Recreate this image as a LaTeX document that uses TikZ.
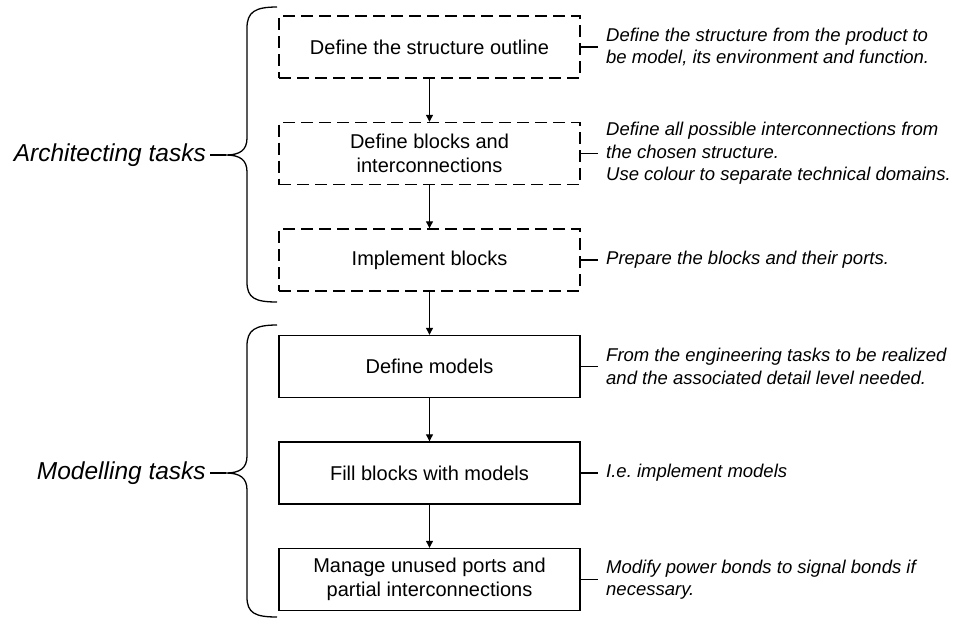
\documentclass[tikz,border=0pt]{standalone}
\usepackage{fontspec}
\setmainfont{Liberation Sans}
\usetikzlibrary{arrows.meta}
\frenchspacing

\begin{document}
\begin{tikzpicture}[x=1pt,y=-1pt,
  task/.style={draw,line width=1.4pt,minimum width=301pt,minimum height=62pt,
    align=center,font=\fontsize{20}{23.5}\selectfont},
  sketch/.style={task,dash pattern=on 12pt off 6pt},
  note/.style={anchor=west,inner xsep=8pt,inner ysep=0pt,align=left,
    font=\fontsize{18.5}{22.5}\selectfont\itshape},
  group/.style={anchor=east,inner xsep=4pt,inner ysep=0pt,
    font=\fontsize{24.5}{28}\selectfont\itshape},
  flow/.style={-{Triangle[length=7pt,width=7pt]},line width=1.1pt},
  curly/.style={line width=1.3pt}]
\useasboundingbox (0,0) rectangle (960,619);

% architecting part
\node[sketch] (s1) at (429.5,47) {Define the structure outline};
\node[sketch] (s2) at (429.5,153.5) {Define blocks and\\interconnections};
\node[sketch] (s3) at (429.5,260) {Implement blocks};

% modelling part
\node[task] (m1) at (429.5,366.5) {Define models};
\node[task] (m2) at (429.5,473) {Fill blocks with models};
\node[task] (m3) at (429.5,579.5) {Manage unused ports and\\partial interconnections};

\foreach \a/\b in {s1/s2, s2/s3, s3/m1, m1/m2, m2/m3}
  \draw[flow] (\a) -- (\b);

% comments on the right
\node[note] (n1) at (598,47) {Define the structure from the product to\\be model, its environment and function.};
\node[note] (n2) at (598,153.5) {Define all possible interconnections from\\the chosen structure.\\Use colour to separate technical domains.};
\node[note] (n3) at (598,260) {Prepare the blocks and their ports.};
\node[note] (n4) at (598,366.5) {From the engineering tasks to be realized\\and the associated detail level needed.};
\node[note] (n5) at (598,473) {I.e. implement models};
\node[note] (n6) at (598,579.5) {Modify power bonds to signal bonds if\\necessary.};

\foreach \a/\b in {s1/n1, s2/n2, s3/n3, m1/n4, m2/n5, m3/n6}
  \draw[line width=1.1pt] (\a.east) -- (\b.west);

% braces
\coordinate (archtip) at (226,155);
\coordinate (modtip) at (226,473);
\node[group] (arch) at (210,155) {Architecting tasks};
\node[group] (mod) at (210,473) {Modelling tasks};

\draw[curly] (277,7) .. controls (255,7) and (247,12) .. (247,28) -- (247,138)
  .. controls (247,150) and (240,155) .. (archtip)
  .. controls (240,155) and (247,160) .. (247,172) -- (247,282)
  .. controls (247,298) and (255,302) .. (277,302);
\draw[curly] (277,325) .. controls (255,325) and (247,330) .. (247,346) -- (247,456)
  .. controls (247,468) and (240,473) .. (modtip)
  .. controls (240,473) and (247,478) .. (247,490) -- (247,597)
  .. controls (247,613) and (255,617) .. (277,617);
\draw[curly] (arch.east) -- (archtip);
\draw[curly] (mod.east) -- (modtip);
\end{tikzpicture}
\end{document}
